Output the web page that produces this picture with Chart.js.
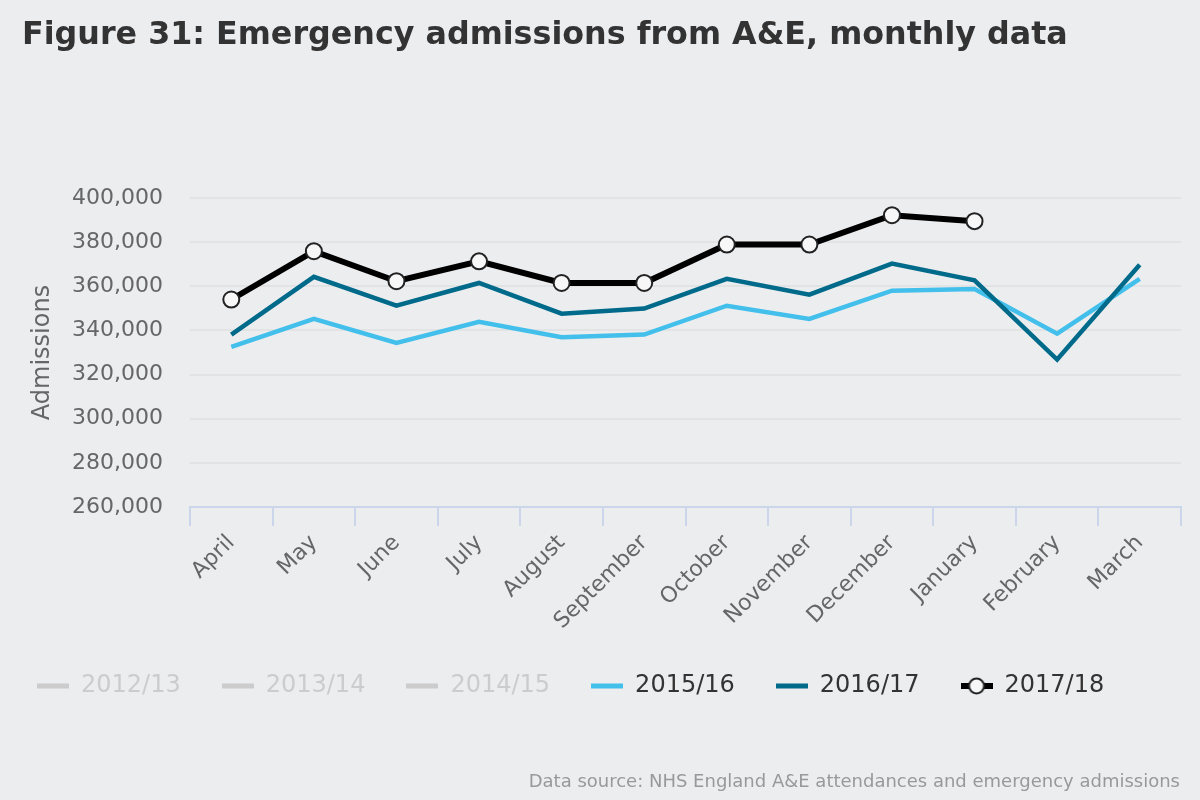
<!DOCTYPE html>
<html>
<head>
<meta charset="utf-8">
<title>Figure 31: Emergency admissions from A&amp;E, monthly data</title>
<script src="https://cdn.jsdelivr.net/npm/chart.js@4"></script>
<style>
  html, body { margin: 0; padding: 0; background: #ecedef; }
  #wrap { position: relative; width: 1200px; height: 800px; background: #ecedef; overflow: hidden; }
  #chart { position: absolute; left: 0; top: 0; }
  #title {
    position: absolute; left: 22px; top: 17px; margin: 0;
    font: bold 31.75px "DejaVu Sans", Verdana, sans-serif; line-height: 32px; color: #333;
    white-space: nowrap;
  }
  #source {
    position: absolute; right: 20px; top: 771px;
    font: 18px "DejaVu Sans", Verdana, sans-serif; line-height: 20px; color: #999;
    white-space: nowrap;
  }
</style>
</head>
<body>
<div id="wrap">
  <canvas id="chart" width="1200" height="800"></canvas>
  <h1 id="title">Figure 31: Emergency admissions from A&amp;E, monthly data</h1>
  <div id="source">Data source: NHS England A&amp;E attendances and emergency admissions</div>
</div>
<script>
// Months of the financial year
var months = ['April', 'May', 'June', 'July', 'August', 'September',
              'October', 'November', 'December', 'January', 'February', 'March'];

// Series shown in the legend (first three are switched off in the original)
var seriesNames = ['2012/13', '2013/14', '2014/15', '2015/16', '2016/17', '2017/18'];

// Admissions
var admissions1516 = [332500, 345200, 334300, 343900, 336900, 338100,
                      351200, 345200, 358000, 358800, 338500, 363400];
var admissions1617 = [338100, 364300, 351200, 361500, 347600, 349900,
                      363400, 356200, 370300, 362700, 326800, 369800];
var admissions1718 = [354000, 375900, 362300, 371300, 361500, 361500,
                      378900, 378900, 392200, 389500];

// Y axis ticks
var yMin = 260000;
var yMax = 400000;
var yStep = 20000;

var FONT = '"DejaVu Sans", Verdana, sans-serif';
Chart.defaults.font.family = FONT;

// Small canvases used as legend symbols
function makeIcon(color, withMarker) {
    var c = document.createElement('canvas');
    c.width = 32;
    c.height = 20;
    var g = c.getContext('2d');
    g.fillStyle = color;
    if (withMarker) {
        g.fillRect(0, 7, 32, 6);
        g.beginPath();
        g.arc(16, 10, 7.5, 0, Math.PI * 2);
        g.fillStyle = '#f7f7f7';
        g.fill();
        g.lineWidth = 2;
        g.strokeStyle = '#222';
        g.stroke();
    } else {
        g.fillRect(0, 7.5, 32, 5);
    }
    return c;
}

function lineSet(name, values, color, width, order) {
    return {
        label: name,
        data: values,
        borderColor: color,
        backgroundColor: color,
        borderWidth: width,
        pointRadius: 0,
        tension: 0,
        order: order
    };
}

var datasets = [
    lineSet(seriesNames[0], [], '#cccccc', 4.5, 5),
    lineSet(seriesNames[1], [], '#cccccc', 4.5, 4),
    lineSet(seriesNames[2], [], '#cccccc', 4.5, 3),
    lineSet(seriesNames[3], admissions1516, '#43bfeb', 4.5, 2),
    lineSet(seriesNames[4], admissions1617, '#006a8b', 4.5, 1),
    lineSet(seriesNames[5], admissions1718, '#000000', 6, 0)
];
datasets[0].hidden = true;
datasets[1].hidden = true;
datasets[2].hidden = true;
// 2017/18 has round markers
datasets[5].pointRadius = 8;
datasets[5].pointBackgroundColor = '#f7f7f7';
datasets[5].pointBorderColor = '#222';
datasets[5].pointBorderWidth = 2;

var icons = [
    makeIcon('#cccccc'), makeIcon('#cccccc'), makeIcon('#cccccc'),
    makeIcon('#43bfeb'), makeIcon('#006a8b'), makeIcon('#000000', true)
];

// nudge the legend row a little to the left, like the original
var legendNudge = {
    id: 'legendNudge',
    afterLayout: function (ch) {
        ch.legend.left -= 4;
        ch.legend.right -= 4;
    }
};

var ctx = document.getElementById('chart').getContext('2d');
var chart = new Chart(ctx, {
    type: 'line',
    data: { labels: months, datasets: datasets },
    plugins: [legendNudge],
    options: {
        responsive: false,
        animation: false,
        layout: { padding: { top: 198, left: 0, right: 19, bottom: 92 } },
        plugins: {
            tooltip: { enabled: false },
            legend: {
                position: 'bottom',
                align: 'start',
                labels: {
                    usePointStyle: true,
                    pointStyleWidth: 32,
                    padding: 41,
                    font: { size: 24 },
                    generateLabels: function (ch) {
                        return ch.data.datasets.map(function (ds, i) {
                            var off = !ch.isDatasetVisible(i);
                            return {
                                text: ds.label,
                                fontColor: off ? '#cccccc' : '#333333',
                                pointStyle: icons[i],
                                hidden: false,
                                lineWidth: 0,
                                datasetIndex: i
                            };
                        });
                    }
                }
            }
        },
        scales: {
            x: {
                offset: true,
                afterFit: function (scale) { scale.height = 126; },
                grid: {
                    offset: true,
                    drawOnChartArea: false,
                    color: '#ccd6eb',
                    lineWidth: 2,
                    tickLength: 19
                },
                border: { color: '#ccd6eb', width: 2 },
                ticks: {
                    minRotation: 45,
                    maxRotation: 45,
                    autoSkip: false,
                    padding: 4,
                    color: '#666666',
                    font: { size: 22 }
                }
            },
            y: {
                min: yMin,
                max: yMax,
                afterFit: function (scale) { scale.width = 190; },
                grid: { color: '#e2e3e5', lineWidth: 2, drawTicks: false },
                border: { display: false },
                ticks: {
                    stepSize: yStep,
                    padding: 27,
                    color: '#666666',
                    font: { size: 22 },
                    callback: function (v) { return v.toLocaleString('en-GB'); }
                },
                title: {
                    display: true,
                    text: 'Admissions',
                    color: '#666666',
                    font: { size: 24 },
                    padding: { top: 28, bottom: 0 }
                }
            }
        }
    }
});
</script>
</body>
</html>
